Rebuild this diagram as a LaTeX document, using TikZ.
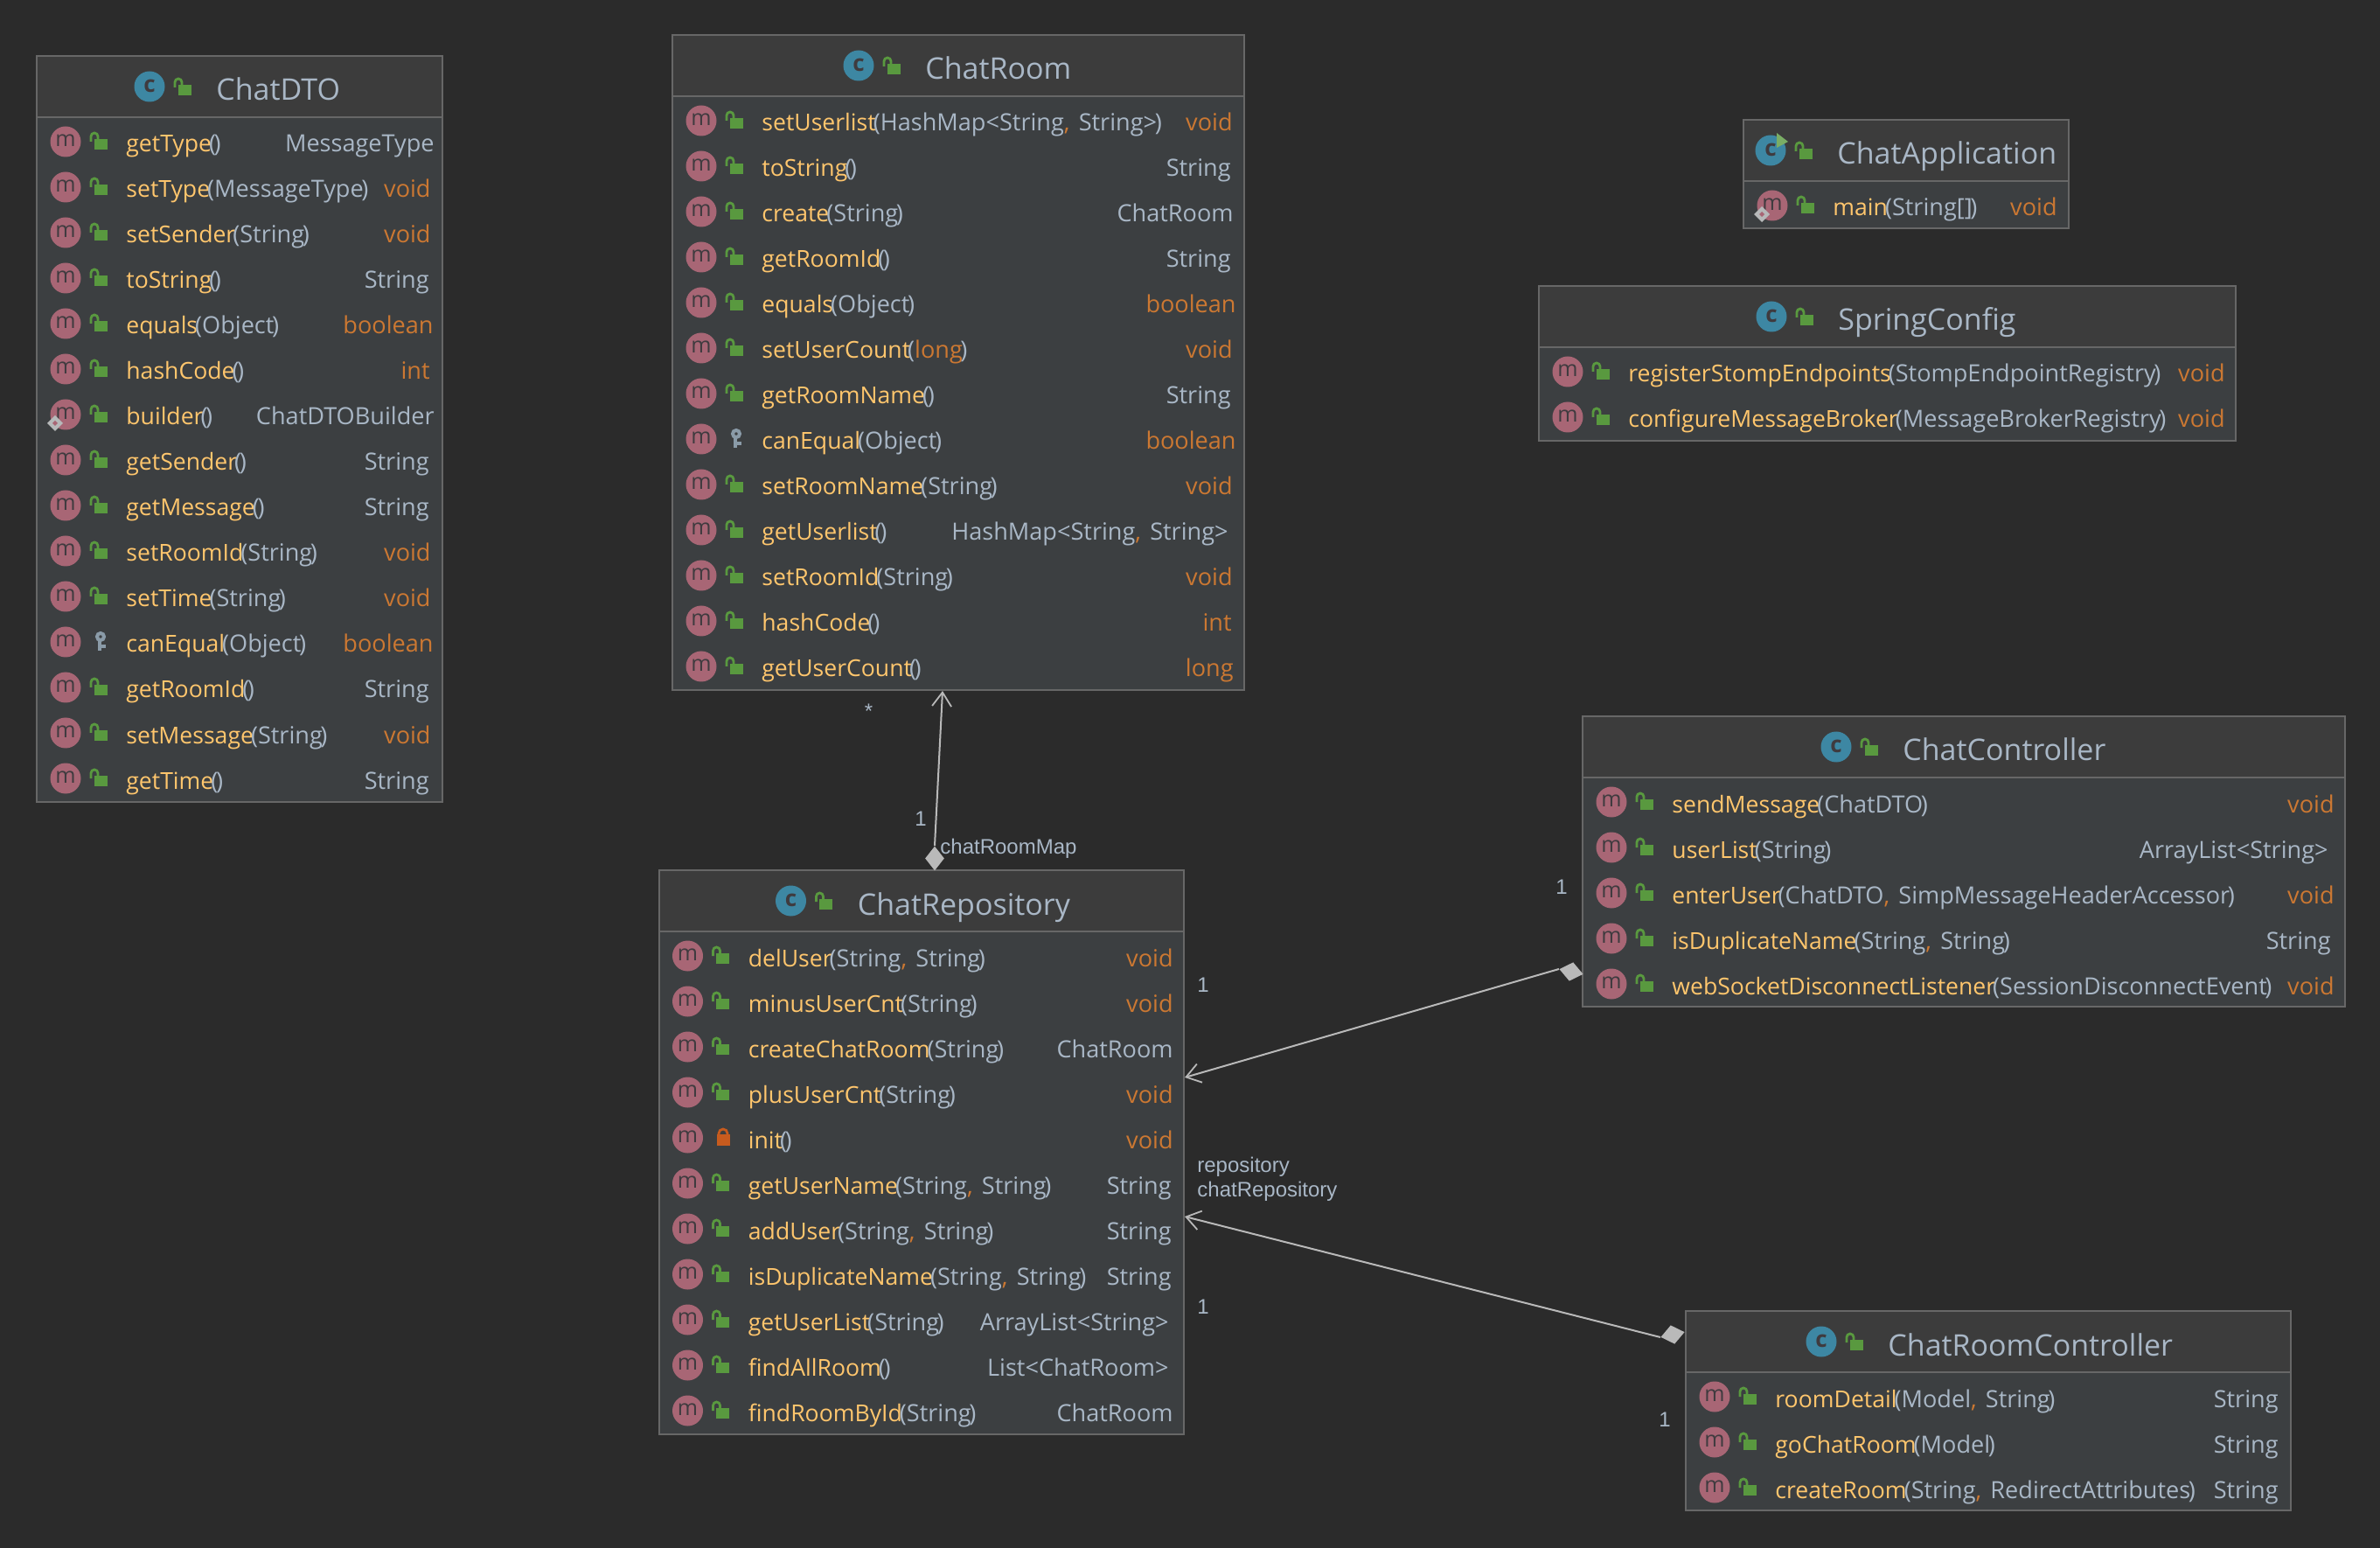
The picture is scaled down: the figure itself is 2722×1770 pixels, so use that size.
\documentclass[tikz,border=0pt]{standalone}
\usepackage{fontspec}
\setmainfont{Open Sans}
\newfontfamily\arialish{Liberation Sans}
\usetikzlibrary{fit,shapes.geometric,arrows.meta}
\definecolor{bgc}{HTML}{2B2B2B}
\definecolor{bodyc}{HTML}{3C3F41}
\definecolor{headc}{HTML}{3C3C3C}
\definecolor{edgec}{HTML}{676767}
\definecolor{namec}{HTML}{FFC66D}
\definecolor{typec}{HTML}{A9B7C6}
\definecolor{keyc}{HTML}{CC7832}
\definecolor{methc}{HTML}{A86675}
\definecolor{classc}{HTML}{3D87A3}
\definecolor{lockc}{HTML}{59993F}
\definecolor{redlock}{HTML}{C75B1E}
\definecolor{keyicn}{HTML}{8A9BA8}
\definecolor{icontxt}{HTML}{3F3B3F}
\definecolor{linkc}{HTML}{B9B9B9}
\newcounter{nid}
\newcommand{\rowfont}{\fontsize{13.55}{15}\selectfont}
\newcommand{\namefont}{\fontsize{13.3}{15}\selectfont}
\newcommand{\titlefont}{\fontsize{17.0}{19}\selectfont}
\newcommand{\cm}{{\color{keyc},}\ \kern1.6pt}
\newcommand{\mm}[2]{{\namefont\color{namec}#1}\kern-1.5pt(#2\kern-1.2pt)}
\tikzset{
  x=0.5pt,y=-0.5pt,
  classbox/.style={draw=edgec,line width=1pt,fill=bodyc,inner sep=0pt},
  rowtext/.style={anchor=base west,inner sep=0pt,text=typec,font=\rowfont},
  rettext/.style={anchor=base east,inner sep=0pt,text=typec,font=\rowfont},
  kwtext/.style={anchor=base east,inner sep=0pt,text=keyc,font=\rowfont},
  titletext/.style={anchor=base west,inner sep=0pt,text=typec,font=\titlefont},
  miconn/.style={circle,fill=methc,minimum size=17.5pt,inner sep=0pt,text=icontxt,font=\fontsize{12.5}{12}\selectfont},
  ciconn/.style={circle,fill=classc,minimum size=17.5pt,inner sep=0pt,text=icontxt,font=\bfseries\fontsize{13}{12}\selectfont},
  linklabel/.style={inner sep=0pt,text=typec,font=\arialish\fontsize{12}{14}\selectfont},
  linkline/.style={draw=linkc,line width=1pt},
  openhead/.style={-{Straight Barb[length=8pt,width=11pt,line width=0.9pt]}},
  compdiamond/.style={diamond,fill=linkc,inner sep=0pt,minimum width=14pt,minimum height=11pt},
}
\newcommand{\lockicon}[3][lockc]{%
  \fill[#1] ({#2-7.5},{#3-2}) rectangle ({#2+7.5},{#3+10});
  \draw[#1,line width=1.4pt] ({#2-11},{#3+1}) -- ({#2-11},{#3-5}) arc[start angle=180,end angle=360,x radius=4,y radius=4] -- ({#2-3},{#3-2});
}
\newcommand{\closedlock}[2]{%
  \fill[redlock] ({#1-7.5},{#2-3}) rectangle ({#1+7.5},{#2+10});
  \draw[redlock,line width=1.4pt] ({#1-5},{#2-3}) -- ({#1-5},{#2-4}) arc[start angle=180,end angle=360,x radius=5,y radius=5] -- ({#1+5},{#2-3});
}
\newcommand{\classframe}[7]{%
  \coordinate (#1-nw) at (#2,#3);
  \coordinate (#1-se) at (#4,#5);
  \node[classbox,fit=(#1-nw)(#1-se)] (#1) {};
  \fill[headc] (#2,#3) rectangle (#4,{#3+70});
  \draw[edgec,line width=1pt] (#2,{#3+70}) -- (#4,{#3+70});
  \draw[edgec,line width=1pt] (#2,#3) rectangle (#4,#5);
  \stepcounter{nid}
  \node[ciconn] (n\arabic{nid}) at (#6,{#3+35}) {\raisebox{1pt}{c}};
  \lockicon{#6+40}{#3+35}
  \stepcounter{nid}
  \node[titletext] (n\arabic{nid}) at ({#6+76},{#3+51}) {#7};
}
\newcommand{\mrowbase}[4]{%
  \stepcounter{nid}
  \node[miconn] (n\arabic{nid}) at ({#1+33},{#2+1}) {\raisebox{1pt}{m}};
  \stepcounter{nid}
  \node[rowtext] (n\arabic{nid}) at ({#1+102},{#2+13}) {#3};
  \stepcounter{nid}
  \node[#4] (n\arabic{nid}) at (\retx,{#2+13}) {\retv};
}
\newcommand{\mrow}[6][rettext]{%
  \def\retx{#5}\def\retv{#6}%
  \mrowbase{#2}{#3}{#4}{#1}
  \lockicon{#2+73}{#3}
}
\newcommand{\smalldia}[2]{%
  \fill[linkc!90!typec] ({#1-12-9},{#2+11}) -- ({#1-12},{#2+11-9}) -- ({#1-12+9},{#2+11}) -- ({#1-12},{#2+11+9}) -- cycle;
  \fill[methc] ({#1-12-3},{#2+11}) -- ({#1-12},{#2+11-3}) -- ({#1-12+3},{#2+11}) -- ({#1-12},{#2+11+3}) -- cycle;
}
\newcommand{\keyicon}[2]{%
  \draw[keyicn,line width=2pt] (#1,{#2-5}) circle[radius=4];
  \draw[keyicn,line width=2pt] ({#1-1},{#2-1}) -- ({#1-1},{#2+11});
  \draw[keyicn,line width=2pt] ({#1-1},{#2+6}) -- ({#1+6},{#2+6});
}
\begin{document}
\begin{tikzpicture}
\useasboundingbox (0,0) rectangle (2722,1770);
\fill[bgc] (0,0) rectangle (2722,1770);

% ---------- ChatDTO
\classframe{dto}{42}{64}{506}{917}{171}{ChatDTO}
\mrow{42}{161}{\mm{getType}{}}{497}{MessageType}
\mrow[kwtext]{42}{213}{\mm{setType}{MessageType}}{493}{void}
\mrow[kwtext]{42}{265}{\mm{setSender}{String}}{493}{void}
\mrow{42}{317}{\mm{toString}{}}{491}{String}
\mrow[kwtext]{42}{369}{\mm{equals}{Object}}{496}{boolean}
\mrow[kwtext]{42}{421}{\mm{hashCode}{}}{492}{int}
\mrow{42}{473}{\mm{builder}{}}{497}{ChatDTOBuilder}
\smalldia{75}{473}
\mrow{42}{525}{\mm{getSender}{}}{491}{String}
\mrow{42}{577}{\mm{getMessage}{}}{491}{String}
\mrow[kwtext]{42}{629}{\mm{setRoomId}{String}}{493}{void}
\mrow[kwtext]{42}{681}{\mm{setTime}{String}}{493}{void}
\def\retx{496}\def\retv{boolean}\mrowbase{42}{733}{\mm{canEqual}{Object}}{kwtext}
\keyicon{115}{733}
\mrow{42}{785}{\mm{getRoomId}{}}{491}{String}
\mrow[kwtext]{42}{837}{\mm{setMessage}{String}}{493}{void}
\mrow{42}{889}{\mm{getTime}{}}{491}{String}

% ---------- ChatRoom
\classframe{room}{769}{40}{1423}{789}{982}{ChatRoom}
\mrow[kwtext]{769}{137}{\mm{setUserlist}{HashMap<String\cm String>}}{1410}{void}
\mrow{769}{189}{\mm{toString}{}}{1408}{String}
\mrow{769}{241}{\mm{create}{String}}{1411}{ChatRoom}
\mrow{769}{293}{\mm{getRoomId}{}}{1408}{String}
\mrow[kwtext]{769}{345}{\mm{equals}{Object}}{1414}{boolean}
\mrow[kwtext]{769}{397}{\mm{setUserCount}{{\color{keyc}long}}}{1410}{void}
\mrow{769}{449}{\mm{getRoomName}{}}{1408}{String}
\def\retx{1414}\def\retv{boolean}\mrowbase{769}{501}{\mm{canEqual}{Object}}{kwtext}
\keyicon{842}{501}
\mrow[kwtext]{769}{553}{\mm{setRoomName}{String}}{1410}{void}
\mrow{769}{605}{\mm{getUserlist}{}}{1405}{HashMap<String\cm String>}
\mrow[kwtext]{769}{657}{\mm{setRoomId}{String}}{1410}{void}
\mrow[kwtext]{769}{709}{\mm{hashCode}{}}{1409}{int}
\mrow[kwtext]{769}{761}{\mm{getUserCount}{}}{1411}{long}

% ---------- ChatRepository
\classframe{repo}{753.5}{995}{1354}{1640}{904.5}{ChatRepository}
\mrow[kwtext]{753.5}{1092}{\mm{delUser}{String\cm String}}{1342}{void}
\mrow[kwtext]{753.5}{1144}{\mm{minusUserCnt}{String}}{1342}{void}
\mrow{753.5}{1196}{\mm{createChatRoom}{String}}{1342}{ChatRoom}
\mrow[kwtext]{753.5}{1248}{\mm{plusUserCnt}{String}}{1342}{void}
\def\retx{1342}\def\retv{void}\mrowbase{753.5}{1300}{\mm{init}{}}{kwtext}
\closedlock{827}{1300}
\mrow{753.5}{1352}{\mm{getUserName}{String\cm String}}{1340}{String}
\mrow{753.5}{1404}{\mm{addUser}{String\cm String}}{1340}{String}
\mrow{753.5}{1456}{\mm{isDuplicateName}{String\cm String}}{1340}{String}
\mrow{753.5}{1508}{\mm{getUserList}{String}}{1337}{ArrayList<String>}
\mrow{753.5}{1560}{\mm{findAllRoom}{}}{1337}{List<ChatRoom>}
\mrow{753.5}{1612}{\mm{findRoomById}{String}}{1342}{ChatRoom}

% ---------- ChatApplication
\classframe{app}{1994}{137}{2366}{261}{2025}{ChatApplication}
\fill[lockc!80!white] (2032,152) -- (2045,162) -- (2032,169) -- cycle;
\mrow[kwtext]{1994}{234}{\mm{main}{String[]}}{2353}{void}
\smalldia{2027}{234}

% ---------- SpringConfig
\classframe{cfg}{1760}{327}{2557}{504}{2026}{SpringConfig}
\mrow[kwtext]{1760}{424}{\mm{registerStompEndpoints}{StompEndpointRegistry}}{2545}{void}
\mrow[kwtext]{1760}{476}{\mm{configureMessageBroker}{MessageBrokerRegistry}}{2545}{void}

% ---------- ChatController
\classframe{ctrl}{1810}{819}{2682}{1151}{2100}{ChatController}
\mrow[kwtext]{1810}{916}{\mm{sendMessage}{ChatDTO}}{2670}{void}
\mrow{1810}{968}{\mm{userList}{String}}{2663}{ArrayList<String>}
\mrow[kwtext]{1810}{1020}{\mm{enterUser}{ChatDTO\cm SimpMessageHeaderAccessor}}{2670}{void}
\mrow{1810}{1072}{\mm{isDuplicateName}{String\cm String}}{2666}{String}
\mrow[kwtext]{1810}{1124}{\mm{webSocketDisconnectListener}{SessionDisconnectEvent}}{2670}{void}

% ---------- ChatRoomController
\classframe{rctrl}{1928}{1499}{2620}{1727}{2083}{ChatRoomController}
\mrow{1928}{1596}{\mm{roomDetail}{Model\cm String}}{2606}{String}
\mrow{1928}{1648}{\mm{goChatRoom}{Model}}{2606}{String}
\mrow{1928}{1700}{\mm{createRoom}{String\cm RedirectAttributes}}{2606}{String}

% ---------- connectors
\node[compdiamond,rotate=90] (d1) at (1069,981.5) {};
\coordinate (roomTip) at (1078,790);
\draw[linkline,openhead] (d1.east) -- (roomTip);
\node[compdiamond,rotate=-12] (d2) at (1797,1111) {};
\coordinate (repoTipA) at (1355,1232);
\draw[linkline,openhead] (d2.west) -- (repoTipA);
\node[compdiamond,rotate=12] (d3) at (1913,1526) {};
\coordinate (repoTipB) at (1355,1391);
\draw[linkline,openhead] (d3.west) -- (repoTipB);

% ---------- labels
\node[linklabel] (l1) at (993.5,813) {*};
\node[linklabel] (l2) at (1053,936) {1};
\node[linklabel,anchor=west] (l3) at (1075,970) {chatRoomMap};
\node[linklabel] (l4) at (1376,1126) {1};
\node[linklabel] (l5) at (1786,1014) {1};
\node[linklabel,anchor=west] (l6) at (1369,1334) {repository};
\node[linklabel,anchor=west] (l7) at (1369,1362) {chatRepository};
\node[linklabel] (l8) at (1376,1494) {1};
\node[linklabel] (l9) at (1904,1623) {1};
\end{tikzpicture}
\end{document}
